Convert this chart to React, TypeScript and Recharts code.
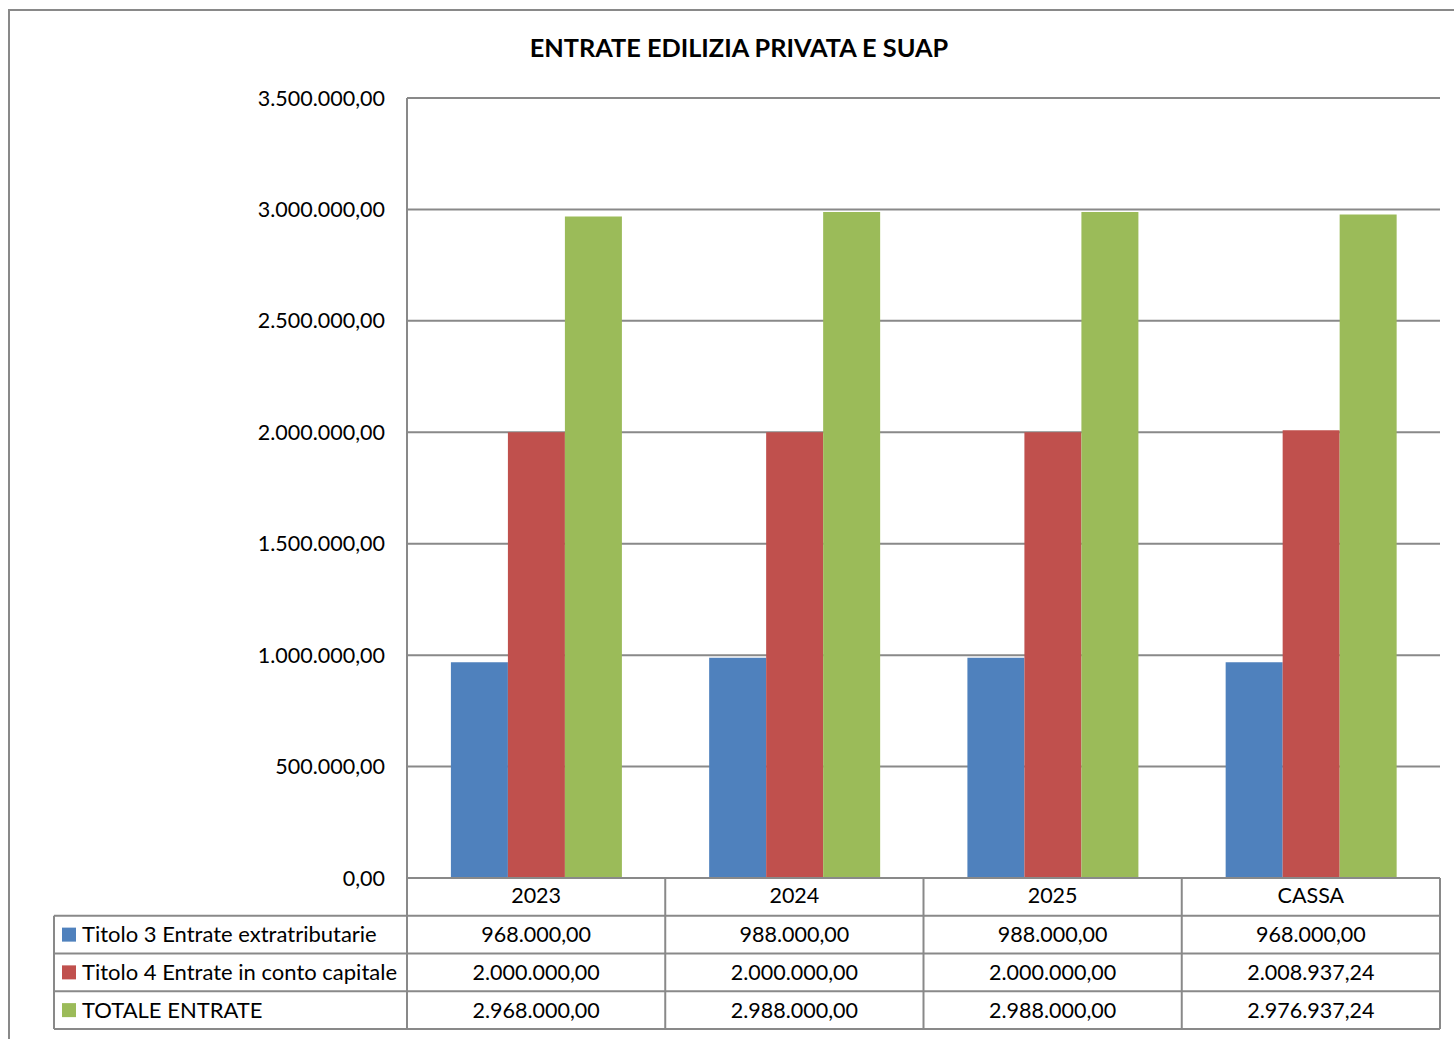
import { BarChart, Bar, XAxis, YAxis, CartesianGrid } from 'recharts';

const CATEGORIES = ['2023', '2024', '2025', 'CASSA'];
const TITOLO_3 = [968000, 988000, 988000, 968000];
const TITOLO_4 = [2000000, 2000000, 2000000, 2008937.24];
const TOTALE = [2968000, 2988000, 2988000, 2976937.24];
const Y_TICKS = [0, 500000, 1000000, 1500000, 2000000, 2500000, 3000000, 3500000];

const SERIES = [
  { key: 'titolo3', name: 'Titolo 3 Entrate extratributarie', color: '#4F81BD', values: TITOLO_3 },
  { key: 'titolo4', name: 'Titolo 4 Entrate in conto capitale', color: '#C0504D', values: TITOLO_4 },
  { key: 'totale', name: 'TOTALE ENTRATE', color: '#9BBB59', values: TOTALE },
];

const data = CATEGORIES.map((cat, i) => ({
  cat,
  titolo3: TITOLO_3[i],
  titolo4: TITOLO_4[i],
  totale: TOTALE[i],
}));

const FONT = 'Lato, Carlito, "Open Sans", sans-serif';
const LINE = '#898989';
const FS = 21.5;

// 1234567.5 -> "1.234.567,50"
const fmt = (v: number) => {
  const [int, dec] = v.toFixed(2).split('.');
  return int.replace(/\B(?=(\d{3})+(?!\d))/g, '.') + ',' + dec;
};

// table geometry (plot spans 407..1440)
const PLOT_L = 407;
const PLOT_R = 1440;
const COL_W = (PLOT_R - PLOT_L) / CATEGORIES.length;
const ROW_TOP = 878;
const ROW_H = 37.75;
const LEG_L = 54;

const DataTable = () => {
  const rows = SERIES.length;
  const bottom = ROW_TOP + ROW_H * (rows + 1);
  return (
    <svg
      width={1454}
      height={1039}
      style={{ position: 'absolute', left: 0, top: 0, pointerEvents: 'none' }}
      fontFamily={FONT}
    >
      {/* outer chart frame, cut off by the page */}
      <path d="M9 1039 V10 H1454" fill="none" stroke={LINE} strokeWidth={2} />
      {/* title */}
      <text x={739} y={57} textAnchor="middle" fontSize={25.3} fontWeight={700} fill="#000">
        ENTRATE EDILIZIA PRIVATA E SUAP
      </text>
      {/* horizontal lines */}
      <line x1={PLOT_L} x2={PLOT_R} y1={ROW_TOP} y2={ROW_TOP} stroke={LINE} strokeWidth={2} />
      {SERIES.map((_, r) => (
        <line
          key={'h' + r}
          x1={LEG_L}
          x2={PLOT_R}
          y1={ROW_TOP + ROW_H * (r + 1)}
          y2={ROW_TOP + ROW_H * (r + 1)}
          stroke={LINE}
          strokeWidth={2}
        />
      ))}
      <line x1={LEG_L} x2={PLOT_R} y1={bottom} y2={bottom} stroke={LINE} strokeWidth={2} />
      {/* vertical lines */}
      <line x1={LEG_L} x2={LEG_L} y1={ROW_TOP + ROW_H} y2={bottom} stroke={LINE} strokeWidth={2} />
      {CATEGORIES.map((_, c) => (
        <line
          key={'v' + c}
          x1={PLOT_L + COL_W * (c + 1)}
          x2={PLOT_L + COL_W * (c + 1)}
          y1={ROW_TOP}
          y2={bottom}
          stroke={LINE}
          strokeWidth={2}
        />
      ))}
      <line x1={PLOT_L} x2={PLOT_L} y1={ROW_TOP} y2={bottom} stroke={LINE} strokeWidth={2} />
      {/* legend keys + values */}
      {SERIES.map((s, r) => {
        const cy = ROW_TOP + ROW_H * (r + 1) + ROW_H / 2;
        return (
          <g key={s.key}>
            <rect x={62} y={cy - 7} width={14} height={14} fill={s.color} />
            <text x={82} y={cy + 7.5} fontSize={22} fill="#000">
              {s.name}
            </text>
            {s.values.map((v, c) => (
              <text
                key={c}
                x={PLOT_L + COL_W * c + COL_W / 2}
                y={cy + 7.5}
                textAnchor="middle"
                fontSize={FS}
                fill="#000"
              >
                {fmt(v)}
              </text>
            ))}
          </g>
        );
      })}
    </svg>
  );
};

export default function App() {
  return (
    <div
      style={{
        position: 'fixed',
        left: 0,
        top: 0,
        width: 1454,
        height: 1039,
        overflow: 'hidden',
        background: '#fff',
        fontFamily: FONT,
      }}
    >
      <BarChart
        width={1454}
        height={1039}
        data={data}
        margin={{ top: 98, right: 14, left: 307, bottom: 124 }}
        barCategoryGap="17%"
        barGap={0}
      >
        <CartesianGrid vertical={false} stroke={LINE} strokeWidth={2} />
        <XAxis
          dataKey="cat"
          height={37}
          axisLine={{ stroke: LINE, strokeWidth: 2 }}
          tickLine={false}
          tickSize={0}
          tickMargin={10}
          tick={{ fontSize: FS, fill: '#000', fontFamily: FONT }}
        />
        <YAxis
          width={100}
          domain={[0, 3500000]}
          ticks={Y_TICKS}
          interval={0}
          tickFormatter={fmt}
          axisLine={{ stroke: LINE, strokeWidth: 2 }}
          tickLine={false}
          tickSize={0}
          tickMargin={22}
          tick={{ fontSize: FS, fill: '#000', fontFamily: FONT }}
        />
        {SERIES.map((s) => (
          <Bar key={s.key} dataKey={s.key} name={s.name} fill={s.color} isAnimationActive={false} />
        ))}
      </BarChart>
      <DataTable />
    </div>
  );
}
